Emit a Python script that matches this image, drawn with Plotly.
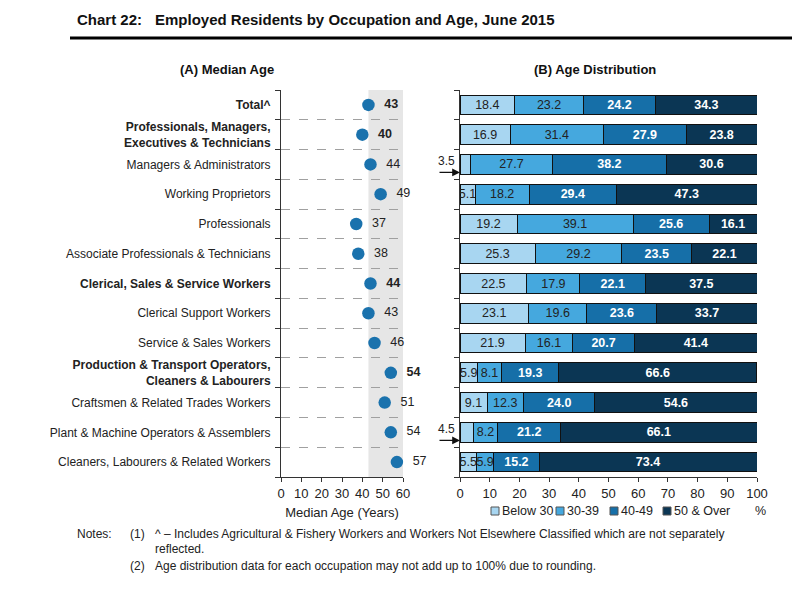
import plotly.graph_objects as go

categories = [
    "Total^",
    "Professionals, Managers,<br>Executives & Technicians",
    "Managers & Administrators",
    "Working Proprietors",
    "Professionals",
    "Associate Professionals & Technicians",
    "Clerical, Sales & Service Workers",
    "Clerical Support Workers",
    "Service & Sales Workers",
    "Production & Transport Operators,<br>Cleaners & Labourers",
    "Craftsmen & Related Trades Workers",
    "Plant & Machine Operators & Assemblers",
    "Cleaners, Labourers & Related Workers",
]
is_group = [True, True, False, False, False, False, True, False, False, True, False, False, False]
median_age = [43, 40, 44, 49, 37, 38, 44, 43, 46, 54, 51, 54, 57]
below_30 = [18.4, 16.9, 3.5, 5.1, 19.2, 25.3, 22.5, 23.1, 21.9, 5.9, 9.1, 4.5, 5.5]
age_30_39 = [23.2, 31.4, 27.7, 18.2, 39.1, 29.2, 17.9, 19.6, 16.1, 8.1, 12.3, 8.2, 5.9]
age_40_49 = [24.2, 27.9, 38.2, 29.4, 25.6, 23.5, 22.1, 23.6, 20.7, 19.3, 24.0, 21.2, 15.2]
age_50_over = [34.3, 23.8, 30.6, 47.3, 16.1, 22.1, 37.5, 33.7, 41.4, 66.6, 54.6, 66.1, 73.4]
series_names = ["Below 30", "30-39", "40-49", "50 & Over"]
median_ticks = [0, 10, 20, 30, 40, 50, 60]
pct_ticks = [0, 10, 20, 30, 40, 50, 60, 70, 80, 90, 100]

W, H = 800, 601
OFF = 8  # page body margin in the browser
FONT = "Liberation Sans, Arial, sans-serif"
TXT = "#222222"
COLORS = ["#a8d6f1", "#45a8de", "#166fa8", "#0b3654"]
DOT = "#1a72ad"

def px(x):
    return (x - OFF) / W

def py(y):
    return 1 - (y - OFF) / H

rows = list(range(len(categories)))
bounds = [r - 0.5 for r in rows] + [len(rows) - 0.5]
labels = [f"<b>{c}</b>" if g else c for c, g in zip(categories, is_group)]

fig = go.Figure()

# (A) median age dots
fig.add_trace(go.Scatter(
    x=median_age, y=rows, mode="markers+text",
    marker=dict(size=12.5, color=DOT),
    text=[("&nbsp;&nbsp;<b>%d</b>" if g else "&nbsp;&nbsp;%d") % v for v, g in zip(median_age, is_group)],
    textposition="middle right",
    textfont=dict(family=FONT, size=12.5, color=TXT),
    cliponaxis=False, showlegend=False,
    xaxis="x", yaxis="y",
))

# (B) stacked bars
series = [below_30, age_30_39, age_40_49, age_50_over]
for i, (name, vals) in enumerate(zip(series_names, series)):
    dark = i >= 2
    txt = []
    for v in vals:
        s = f"{v:.1f}" if v >= 5 else ""
        txt.append(f"<b>{s}</b>" if (dark and s) else s)
    fig.add_trace(go.Bar(
        x=vals, y=rows, orientation="h", name=name,
        marker=dict(color=COLORS[i], line=dict(color="#111111", width=1)),
        width=0.66,
        text=txt, textposition="inside", insidetextanchor="middle",
        constraintext="none", textangle=0,
        textfont=dict(family=FONT, size=12.5, color="white" if dark else TXT),
        hoverinfo="skip", showlegend=False,
        xaxis="x2", yaxis="y2",
    ))

ydom = [py(477), py(90)]
common_y = dict(
    domain=ydom, range=[len(rows) - 0.5, -0.5], showgrid=False, zeroline=False,
    showline=True, linecolor="#333333", linewidth=1, automargin=False,
)
fig.update_layout(
    width=W, height=H,
    margin=dict(l=0, r=0, t=0, b=0, autoexpand=False),
    paper_bgcolor="white", plot_bgcolor="white",
    barmode="stack",
    font=dict(family=FONT, color=TXT, size=12),
    showlegend=False,
    xaxis=dict(
        domain=[px(281), px(403)], range=[0, 60], tickmode="array", tickvals=median_ticks,
        showgrid=False, zeroline=False, showline=True, linecolor="#333333",
        ticks="outside", ticklen=4, tickcolor="#333333", automargin=False,
        tickfont=dict(family=FONT, size=13, color=TXT),
        title=dict(text="Median Age (Years)", font=dict(family=FONT, size=13, color=TXT), standoff=8),
        anchor="y",
    ),
    yaxis=dict(
        **common_y,
        tickmode="array", tickvals=rows, ticktext=labels, ticks="",
        tickfont=dict(family=FONT, size=12, color=TXT),
        ticklabelstandoff=7,
        minor=dict(tickmode="array", tickvals=bounds, ticks="outside", ticklen=5,
                   tickcolor="#333333", showgrid=True, griddash="dash",
                   gridcolor="#a0a0a0", gridwidth=1),
        anchor="x",
    ),
    xaxis2=dict(
        domain=[px(460), px(757)], range=[0, 100], tickmode="array", tickvals=pct_ticks,
        showgrid=False, zeroline=False, showline=True, linecolor="#333333",
        ticks="outside", ticklen=4, tickcolor="#333333", automargin=False,
        tickfont=dict(family=FONT, size=13, color=TXT),
        anchor="y2",
    ),
    yaxis2=dict(
        **common_y,
        showticklabels=False, ticks="",
        minor=dict(tickmode="array", tickvals=bounds, ticks="outside", ticklen=5,
                   tickcolor="#333333", showgrid=False),
        anchor="x2",
    ),
)

shapes = []
# shaded band from total median to axis end
shapes.append(dict(type="rect", xref="x", yref="y domain", x0=median_age[0], x1=60, y0=0, y1=1,
                   fillcolor="#e6e6e6", line=dict(width=0), layer="below"))
# title rule
shapes.append(dict(type="line", xref="paper", yref="paper", x0=px(70), x1=px(792), y0=py(38), y1=py(38),
                   line=dict(color="black", width=3)))

ann = []
ann.append(dict(text="<b>Chart 22:</b>", x=px(75), y=py(20), xanchor="left", yanchor="middle",
                font=dict(size=15, color="#111")))
ann.append(dict(text="<b>Employed Residents by Occupation and Age, June 2015</b>", x=px(153), y=py(20),
                xanchor="left", yanchor="middle", font=dict(size=15, color="#111")))
ann.append(dict(text="<b>(A) Median Age</b>", x=px(227), y=py(69), xanchor="center", yanchor="middle",
                font=dict(size=13, color="#111")))
ann.append(dict(text="<b>(B) Age Distribution</b>", x=px(595), y=py(69), xanchor="center", yanchor="middle",
                font=dict(size=13, color="#111")))

# legend (manual, compact like the reference)
legend_x = [495, 560, 614, 667]
for name, color, lx in zip(series_names, COLORS, legend_x):
    shapes.append(dict(type="rect", xref="paper", yref="paper",
                       x0=px(lx - 4), x1=px(lx + 4), y0=py(515), y1=py(507),
                       fillcolor=color, line=dict(color="#555555", width=1)))
    ann.append(dict(text=name, x=px(lx + 5), y=py(511), xanchor="left", yanchor="middle",
                    font=dict(size=12.5, color=TXT)))
ann.append(dict(text="%", x=px(760), y=py(511), xanchor="center", yanchor="middle",
                font=dict(size=12.5, color=TXT)))

notes = [
    ("Notes:", 75, 534), ("(1)", 128, 534),
    ("^ \u2013 Includes Agricultural &amp; Fishery Workers and Workers Not Elsewhere Classified which are not separately", 153, 534),
    ("reflected.", 153, 549), ("(2)", 128, 566),
    ("Age distribution data for each occupation may not add up to 100% due to rounding.", 153, 566),
]
for t, x, y in notes:
    ann.append(dict(text=t, x=px(x), y=py(y), xanchor="left", yanchor="middle",
                    font=dict(size=12, color=TXT)))

# callouts for small below-30 values
for r, v in zip(rows, below_30):
    if v < 5:
        ann.append(dict(text="", xref="x2", yref="y2", x=0, y=r + 0.27, ax=-22, ay=0,
                        showarrow=True, arrowhead=2, arrowsize=1.2, arrowwidth=1.3,
                        arrowcolor="#111"))
        ann.append(dict(text=f"{v:.1f}", xref="x2", yref="y2", x=0, y=r - 0.1,
                        xanchor="right", yanchor="middle", xshift=-3, showarrow=False,
                        font=dict(size=12, color=TXT)))

for a in ann:
    a.setdefault("xref", "paper")
    a.setdefault("yref", "paper")
    a.setdefault("showarrow", False)
    a["font"] = dict(family=FONT, **a.get("font", {}))
fig.update_layout(annotations=ann, shapes=shapes)

fig.write_html("out.html")
